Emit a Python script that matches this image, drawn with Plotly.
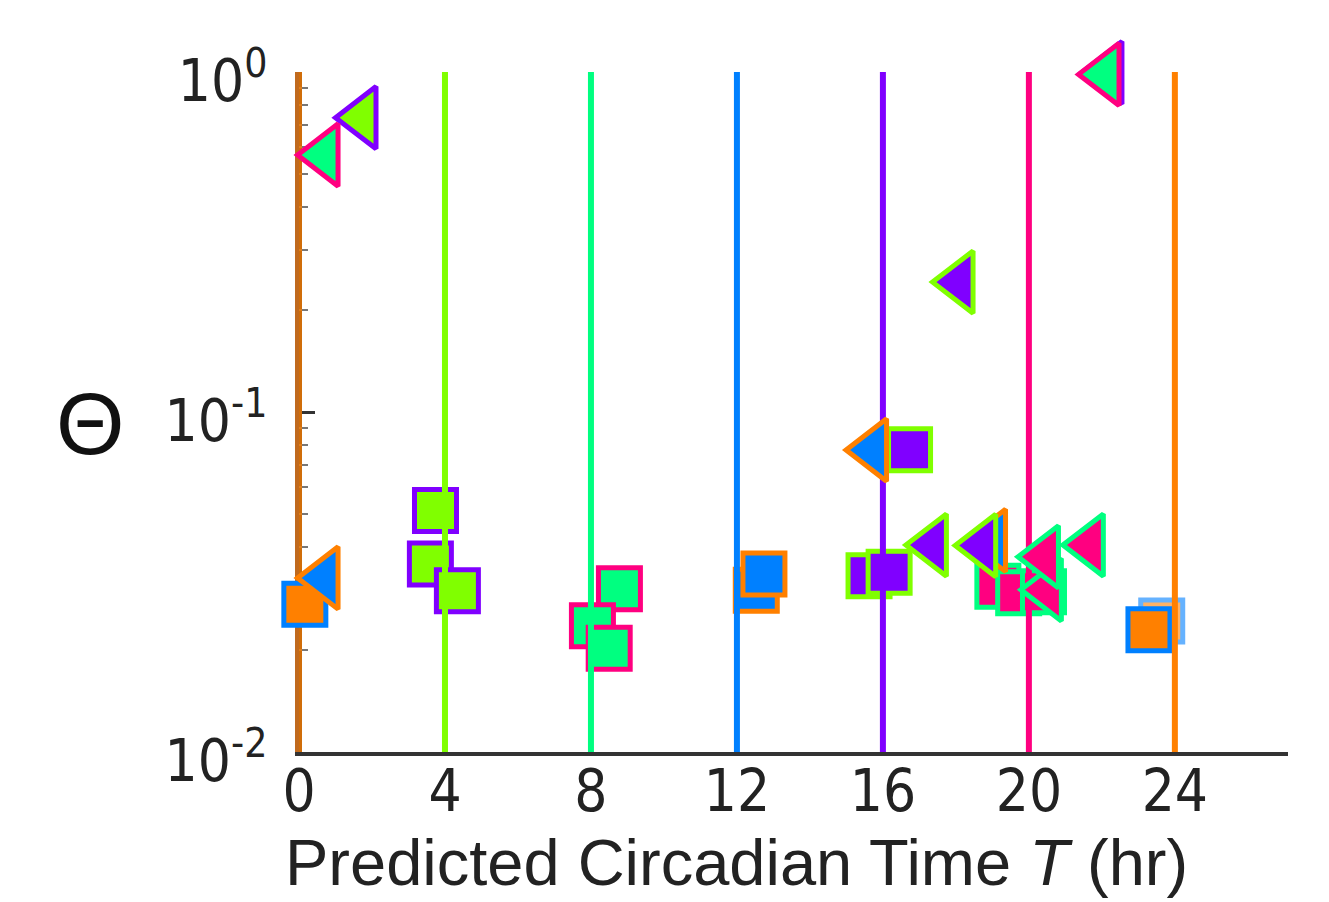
import plotly.graph_objects as go

PALETTE = {
    "orange": "#FF8000",
    "green": "#80FF00",
    "spring": "#00FF80",
    "blue": "#0080FF",
    "purple": "#8000FF",
    "pink": "#FF0080",
}

# reference circadian times (vertical lines)
LINE_CT = [0, 4, 8, 12, 16, 20, 24]
LINE_COLOR = ["orange", "green", "spring", "blue", "purple", "pink", "orange"]

# squares (drawn back to front)
SQ_X = [0.16, 3.74, 3.60, 4.34, 8.78, 8.04, 8.50, 12.53, 12.74, 15.62, 16.17, 16.73,
        19.15, 19.72, 20.40, 23.64, 23.29]
SQ_Y = [0.0272, 0.0513, 0.0357, 0.0298, 0.0302, 0.0235, 0.0202, 0.0299, 0.0334, 0.0330,
        0.0338, 0.0775, 0.0307, 0.0294, 0.0296, 0.0243, 0.0229]
SQ_FILL = ["orange", "green", "green", "green", "spring", "spring", "spring", "blue", "blue",
           "purple", "purple", "purple", "pink", "pink", "pink", "orange", "orange"]
SQ_EDGE = ["blue", "purple", "purple", "purple", "pink", "pink", "pink", "orange", "orange",
           "green", "green", "green", "spring", "spring", "spring", "blue", "blue"]
SQ_ALPHA = [1, 1, 1, 1, 1, 1, 1, 1, 1, 1, 1, 1, 1, 1, 1, 0.6, 1]

# left-pointing triangles (drawn back to front)
TR_X = [0.70, 1.74, 0.70, 22.18, 22.10, 18.10, 15.73, 17.37, 18.99, 18.72, 20.52, 20.44, 21.67]
TR_Y = [0.0325, 0.734, 0.57, 0.995, 0.984, 0.241, 0.0773, 0.0406, 0.0419, 0.0405, 0.0300,
        0.0375, 0.0406]
TR_FILL = ["blue", "green", "spring", "spring", "spring", "purple", "blue", "purple", "blue",
           "purple", "pink", "pink", "pink"]
TR_EDGE = ["orange", "purple", "pink", "purple", "pink", "green", "orange", "green", "orange",
           "green", "spring", "spring", "spring"]

Y_TICKS = [0.01, 0.1, 1]
Y_TICKTEXT = ["10<sup>-2</sup>", "10<sup>-1</sup>", "10<sup>0</sup>"]
Y_MINOR = [m * d for d in (0.01, 0.1) for m in range(2, 10)]
X_TICKS = [0, 4, 8, 12, 16, 20, 24]

FONT = "Liberation Sans, Arial, Helvetica, sans-serif"
NARROW = "Liberation Sans Narrow, Arial Narrow, DejaVu Sans Condensed, Liberation Sans, sans-serif"
TXT = "#222222"

fig = go.Figure()

# line at 0 (over a dark axis column -> brownish)
fig.add_trace(go.Scatter(
    x=[LINE_CT[0], LINE_CT[0]], y=[0.01, 1], mode="lines",
    line=dict(color=PALETTE[LINE_COLOR[0]], width=6), opacity=0.78,
    hoverinfo="skip", showlegend=False))

fig.add_trace(go.Scatter(
    x=SQ_X, y=SQ_Y, mode="markers", cliponaxis=False, showlegend=False,
    marker=dict(symbol="square", size=42, opacity=SQ_ALPHA,
                color=[PALETTE[c] for c in SQ_FILL],
                line=dict(color=[PALETTE[c] for c in SQ_EDGE], width=5))))

for ct, c in zip(LINE_CT[1:], LINE_COLOR[1:]):
    fig.add_trace(go.Scatter(
        x=[ct, ct], y=[0.01, 1], mode="lines",
        line=dict(color=PALETTE[c], width=6),
        hoverinfo="skip", showlegend=False))

fig.add_trace(go.Scatter(
    x=TR_X, y=TR_Y, mode="markers", cliponaxis=False, showlegend=False,
    marker=dict(symbol="triangle-left", size=54,
                color=[PALETTE[c] for c in TR_FILL],
                line=dict(color=[PALETTE[c] for c in TR_EDGE], width=5))))

fig.add_shape(type="line", xref="x", yref="paper", x0=0, x1=0, y0=0, y1=1,
              line=dict(color="#2a2a2a", width=6), layer="below")

fig.update_layout(
    width=1321, height=894,
    margin=dict(l=291, r=41, t=64, b=150),
    paper_bgcolor="white", plot_bgcolor="white",
    font=dict(family=FONT, color=TXT),
    xaxis=dict(range=[0, 27.1], tickvals=X_TICKS, ticks="", showgrid=False,
               zeroline=False, showline=True, linecolor="#333333", linewidth=4,
               tickfont=dict(size=58, family=NARROW, color=TXT), ticklabelstandoff=-15),
    yaxis=dict(type="log", range=[-2, 0], tickvals=Y_TICKS, ticktext=Y_TICKTEXT,
               ticks="inside", ticklen=16, tickwidth=3, tickcolor="#333333",
               minor=dict(tickvals=Y_MINOR, ticks="inside", ticklen=9, tickwidth=2,
                          tickcolor="#777777"),
               showgrid=False, zeroline=False, showline=True, linecolor="#C06A1E",
               linewidth=4, layer="below traces",
               tickfont=dict(size=58, family=NARROW, color=TXT),
               ticklabelstandoff=16, ticklabelshift=9),
)

fig.add_annotation(text="Predicted Circadian Time <i>T</i> (hr)", x=12, xref="x",
                   y=-0.1625, yref="paper", xanchor="center", yanchor="middle",
                   showarrow=False, font=dict(size=65, family=FONT, color=TXT))
fig.add_annotation(text="Θ", x=-0.2113, xref="paper", y=0.483, yref="paper",
                   xanchor="center", yanchor="middle", showarrow=False,
                   font=dict(size=88, family=FONT, color="#111111"))

fig.write_html("out.html")
